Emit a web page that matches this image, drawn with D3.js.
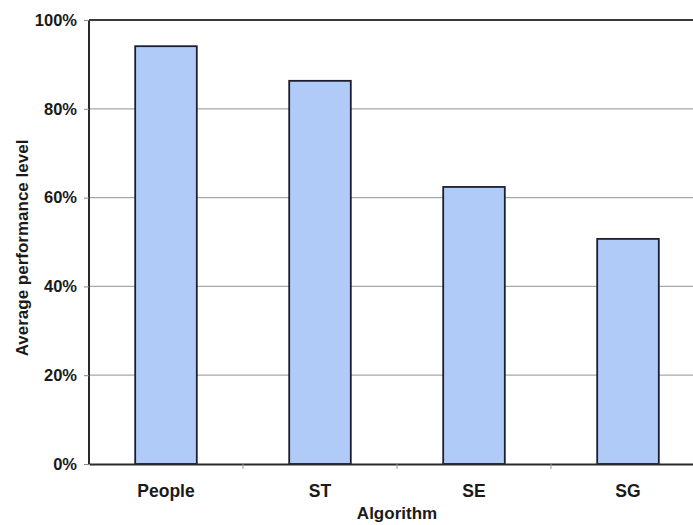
<!DOCTYPE html>
<html><head><meta charset="utf-8">
<script src="https://cdn.jsdelivr.net/npm/d3@7"></script>
<style>body{margin:0;background:#fff}svg{display:block}text{font-family:"Liberation Sans",Arial,sans-serif;font-weight:bold;fill:#1a1a1a}</style>
</head><body><svg id="c" width="693" height="525"></svg>
<script>
const categories = ["People","ST","SE","SG"];
const values = [0.941, 0.863, 0.624, 0.507];
const yTicks = [0,0.2,0.4,0.6,0.8,1.0];
const xTitle = "Algorithm";
const yTitle = "Average performance level";

const svg = d3.select("#c");
const L=89, T=20, B=464, R=705;
const x = d3.scaleBand().domain(categories).range([L,R]).paddingInner(0).paddingOuter(0);
const y = d3.scaleLinear().domain([0,1]).range([B,T]);

// gridlines
svg.append("g").selectAll("line").data(yTicks.filter(d=>d>0&&d<1)).join("line")
  .attr("x1",L).attr("x2",R).attr("y1",d=>y(d)).attr("y2",d=>y(d))
  .attr("stroke","#a8a8a8").attr("stroke-width",1.2);

// bars
const bw = x.bandwidth()/2.5;
svg.append("g").selectAll("rect").data(categories).join("rect")
  .attr("x",(d)=>x(d)+x.bandwidth()/2-bw/2)
  .attr("y",(d,i)=>y(values[i]))
  .attr("width",bw)
  .attr("height",(d,i)=>B-y(values[i]))
  .attr("fill","#b0cbf8").attr("stroke","#1c1f2e").attr("stroke-width",1.8);

// frame top + left
svg.append("line").attr("x1",L).attr("x2",R).attr("y1",T).attr("y2",T).attr("stroke","#3a3a3a").attr("stroke-width",2);
svg.append("line").attr("x1",L).attr("x2",L).attr("y1",T).attr("y2",B).attr("stroke","#2a2a2a").attr("stroke-width",2);

// y axis
const ya = d3.axisLeft(y).tickValues(yTicks).tickFormat(d3.format(".0%")).tickSize(5).tickPadding(7);
const gy = svg.append("g").attr("transform",`translate(${L},0)`).call(ya);
gy.select(".domain").remove();
gy.selectAll(".tick line").attr("stroke","#888");
gy.selectAll("text").style("font-size","16.5px").attr("fill","#1a1a1a");

// x axis
const xa = d3.axisBottom(x).tickSize(0).tickPadding(0);
const gx = svg.append("g").attr("transform",`translate(0,${B})`).call(xa);
gx.select(".domain").attr("stroke","#2a2a2a").attr("stroke-width",2);
gx.selectAll("text").attr("dy",null).attr("y",33).style("font-size","17.5px").attr("fill","#1a1a1a");
// category boundary ticks
svg.append("g").selectAll("line").data(categories.slice(1)).join("line")
  .attr("x1",d=>x(d)).attr("x2",d=>x(d)).attr("y1",B).attr("y2",B+5).attr("stroke","#999");

svg.append("text").attr("x",(L+R)/2).attr("y",519).attr("text-anchor","middle").style("font-size","17px").text(xTitle);
svg.append("text").attr("transform",`translate(28,248) rotate(-90)`).attr("text-anchor","middle").style("font-size","17px").text(yTitle);
</script></body></html>
